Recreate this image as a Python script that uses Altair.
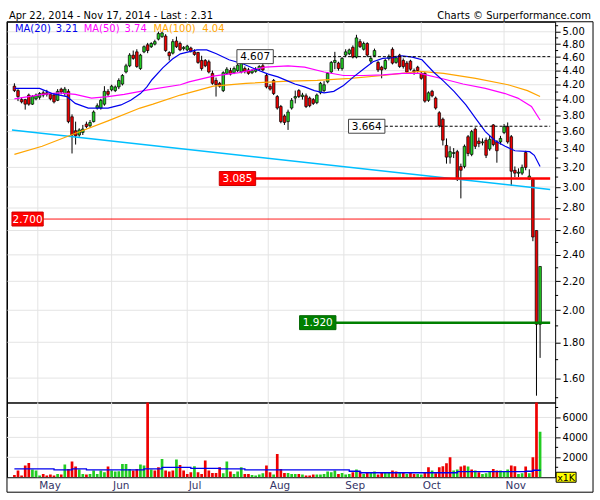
import math
import altair as alt
import numpy as np
import pandas as pd

FONT = "DejaVu Sans"

# ---------------- data ----------------
opens = [4.18,4.12,4.00,4.00,4.06,3.94,4.01,4.03,4.09,4.09,
 4.07,4.06,3.99,4.14,4.08,4.11,3.78,3.61,3.56,3.59,
 3.69,3.67,3.72,3.89,3.89,3.94,4.11,4.13,4.12,4.17,
 4.21,4.38,4.47,4.63,4.68,4.43,4.68,4.79,4.76,4.80,
 4.88,4.92,4.93,4.67,4.66,4.85,4.81,4.73,4.71,4.74,
 4.68,4.67,4.55,4.55,4.53,4.36,4.26,4.22,4.12,4.36,
 4.40,4.37,4.40,4.38,4.43,4.41,4.37,4.39,4.42,4.47,
 4.33,4.18,4.26,4.04,3.91,3.79,3.72,3.89,4.02,4.12,
 4.04,4.05,4.02,4.00,3.96,4.09,4.12,4.24,4.38,4.52,
 4.51,4.43,4.63,4.65,4.75,4.60,4.84,4.72,4.81,4.54,
 4.62,4.52,4.45,4.43,4.58,4.72,4.52,4.63,4.55,4.51,
 4.54,4.40,4.45,4.36,4.36,3.99,4.11,4.02,3.83,3.75,
 3.44,3.31,3.35,3.37,3.21,3.21,3.54,3.34,3.63,3.49,
 3.47,3.50,3.40,3.68,3.48,3.48,3.59,3.66,3.54,3.17,
 3.14,3.14,3.36,3.08,3.075,2.60,1.91]
highs = [4.22,4.14,4.03,4.01,4.08,4.06,4.08,4.10,4.12,4.13,
 4.09,4.08,4.14,4.16,4.17,4.14,3.81,3.72,3.64,3.68,
 3.72,3.74,3.86,3.95,4.01,4.18,4.14,4.20,4.19,4.29,
 4.35,4.50,4.66,4.70,4.72,4.65,4.78,4.82,4.83,4.87,
 5.00,5.00,4.96,4.69,4.88,4.92,4.84,4.77,4.79,4.76,
 4.72,4.68,4.62,4.57,4.56,4.40,4.30,4.24,4.39,4.45,
 4.44,4.46,4.50,4.60,4.46,4.44,4.42,4.45,4.48,4.52,
 4.36,4.21,4.28,4.06,3.93,3.81,3.87,4.02,4.12,4.14,
 4.09,4.08,4.04,4.02,4.08,4.24,4.25,4.38,4.54,4.68,
 4.53,4.60,4.72,4.73,4.78,4.95,4.88,4.84,4.83,4.62,
 4.73,4.54,4.47,4.57,4.64,4.75,4.62,4.65,4.58,4.54,
 4.56,4.43,4.47,4.38,4.38,4.11,4.13,4.04,3.85,3.77,
 3.52,3.43,3.41,3.39,3.24,3.45,3.56,3.62,3.65,3.53,
 3.52,3.53,3.55,3.69,3.50,3.55,3.69,3.71,3.56,3.21,
 3.19,3.23,3.38,3.18,3.085,2.60,2.31]
lows = [4.10,3.98,3.95,3.87,3.92,3.93,3.99,4.00,4.03,4.04,
 3.99,3.95,3.98,4.07,4.05,3.70,3.35,3.45,3.54,3.56,
 3.64,3.65,3.71,3.87,3.87,3.92,4.04,4.11,4.10,4.14,
 4.19,4.36,4.45,4.56,4.44,4.41,4.66,4.66,4.74,4.78,
 4.86,4.90,4.68,4.55,4.64,4.74,4.69,4.70,4.69,4.67,
 4.62,4.50,4.40,4.45,4.36,4.20,4.04,4.16,4.10,4.34,
 4.33,4.35,4.38,4.36,4.36,4.34,4.35,4.37,4.40,4.39,
 4.15,4.12,4.06,3.87,3.70,3.68,3.62,3.87,3.95,4.02,
 4.00,3.89,3.90,3.93,3.94,4.07,4.10,4.22,4.36,4.42,
 4.40,4.40,4.60,4.63,4.58,4.58,4.74,4.70,4.60,4.50,
 4.60,4.38,4.29,4.41,4.55,4.49,4.50,4.44,4.43,4.36,
 4.40,4.34,4.37,4.27,3.96,3.97,4.03,3.87,3.65,3.44,
 3.24,3.24,3.30,3.06,2.89,3.19,3.32,3.32,3.40,3.42,
 3.44,3.30,3.38,3.43,3.25,3.45,3.57,3.46,3.01,3.10,
 3.10,3.12,3.17,3.07,2.51,1.51,1.71]
closes = [4.12,4.04,3.97,3.94,3.94,4.04,4.06,4.08,4.06,4.07,
 4.01,3.97,4.11,4.10,4.14,3.72,3.56,3.55,3.62,3.63,
 3.66,3.71,3.84,3.92,3.99,4.11,4.07,4.18,4.17,4.26,
 4.33,4.47,4.63,4.58,4.46,4.63,4.76,4.70,4.81,4.84,
 4.97,4.98,4.70,4.62,4.84,4.76,4.71,4.75,4.77,4.69,
 4.64,4.52,4.43,4.47,4.38,4.22,4.20,4.18,4.37,4.42,
 4.35,4.43,4.48,4.53,4.39,4.36,4.40,4.42,4.46,4.41,
 4.17,4.14,4.08,3.89,3.72,3.71,3.84,3.99,4.04,4.04,
 4.06,3.91,3.92,3.95,4.06,4.22,4.20,4.36,4.52,4.55,
 4.43,4.58,4.68,4.71,4.60,4.90,4.76,4.81,4.63,4.58,
 4.70,4.41,4.41,4.55,4.61,4.51,4.59,4.46,4.46,4.38,
 4.42,4.38,4.40,4.29,3.98,4.09,4.05,3.89,3.67,3.50,
 3.31,3.37,3.36,3.08,3.17,3.43,3.35,3.60,3.43,3.46,
 3.48,3.33,3.51,3.45,3.38,3.52,3.66,3.48,3.16,3.14,
 3.15,3.20,3.20,3.11,2.545,1.91,2.31]

# volume in thousands of shares
volumes = [230,670,170,1170,1430,770,670,170,330,170,
 270,170,330,270,1270,830,1570,1070,770,330,
 270,330,670,330,670,500,1070,670,570,600,
 1330,1330,830,670,830,1270,1170,9000,770,670,
 1000,1830,670,570,670,1770,1230,670,330,500,
 1100,500,330,1670,670,430,430,1000,400,1570,
 570,330,570,1000,330,330,230,170,270,400,
 1170,500,270,2330,830,430,430,330,330,330,
 270,170,170,270,270,270,330,570,500,670,
 330,430,270,330,500,770,570,330,500,430,
 570,270,500,500,500,670,570,430,500,330,
 430,330,330,270,500,1000,670,400,1000,1100,
 1400,2000,670,770,1070,1170,1070,770,670,500,
 330,400,570,830,670,670,570,770,1170,1100,
 330,400,1070,400,2000,9000,4570]
vol_dirs = list("".join([
 "rrrrrgggrr", "rrgrgrrrgg", "rgggggrggg", "gggrrggrgr",
 "rgrrrgrrrr", "grrrrrrrgg", "rgggrrgggg", "rrgrrrgggr",
 "grrrgggggg", "rgggrgrgrg", "grrggrrgrg", "rrggrrgrrr",
 "rrggrrgrgr", "gggrrgggrr", "ggrgrrg"]))

ma20 = [(0,4.15),(7,4.15),(10.5,4.08),(14.6,4.04),(16.9,3.95),(20.5,3.89),(26,3.89),
 (29.6,3.93),(32.3,3.99),(35,4.08),(36.8,4.17),(38.2,4.27),(41.2,4.44),(43.9,4.57),
 (46.1,4.65),(50.7,4.71),(53.4,4.71),(56.1,4.65),(59.6,4.56),(63.4,4.50),(67,4.42),
 (70.5,4.35),(73.2,4.31),(76,4.25),(77.9,4.21),(80.6,4.17),(83.3,4.12),(86,4.09),
 (88.7,4.11),(91.4,4.19),(94.2,4.31),(96.9,4.42),(99.6,4.53),(102.3,4.58),(105,4.59),
 (107.7,4.62),(110.5,4.60),(113.2,4.56),(116.4,4.38),(119.2,4.25),(122.1,4.11),
 (125.4,3.93),(128.1,3.76),(130.8,3.60),(133.6,3.49),(136.3,3.43),(139,3.38),
 (143.1,3.37),(144.4,3.33),(146,3.21)]
ma50 = [(0,4.01),(7.8,4.07),(12.4,4.09),(16.9,4.07),(21.4,4.02),(26,4.04),(30.5,4.07),
 (35,4.11),(37.1,4.13),(46.1,4.20),(48.5,4.24),(55.2,4.32),(62.4,4.37),(69.7,4.45),
 (76,4.47),(80.6,4.45),(86,4.38),(91.4,4.33),(96.9,4.33),(102.3,4.34),(107.7,4.36),
 (112.6,4.36),(119.2,4.28),(124.6,4.21),(130.8,4.15),(136.3,4.08),(139.8,4.02),
 (143.6,3.91),(146,3.74)]
ma100 = [(0,3.34),(7.7,3.43),(17,3.58),(26,3.73),(34.9,3.89),(38.5,3.94),(46.1,4.06),
 (50.7,4.12),(55.3,4.18),(64.3,4.22),(76,4.25),(84.1,4.26),(93.3,4.29),(102.3,4.33),
 (112.6,4.39),(119.2,4.36),(128.1,4.29),(137.1,4.20),(142.5,4.12),(146,4.04)]
vol_ma = [(0,830),(11,730),(16,830),(20,740),(36,830),(41,1000),(49,900),(57,830),
 (64,740),(93,600),(96,450),(123,570),(142,600),(144,700),(146,780)]
trend = [(-0.68,3.62),(148.8,2.976)]

month_names = ["May", "Jun", "Jul", "Aug", "Sep", "Oct", "Nov"]
month_pos = [6.5, 27, 48, 70.5, 91.5, 113, 136]

price_ticks = [1.6,1.8,2.0,2.2,2.4,2.6,2.8,3.0,3.2,3.4,3.6,3.8,4.0,4.2,4.4,4.6,4.8,5.0]
price_minor = [1.5,1.7,1.9,2.1,2.3,2.5,2.7,2.9,3.1,3.3,3.5,3.7,3.9,4.1,4.3,4.5,4.7,4.9,5.1]
vol_ticks = [2000, 4000, 6000]
vol_minor = [1000, 3000, 5000, 7000]

levels = [
    dict(price=4.607, label="4.607", left=61.8, right=71.9, kind="dash"),
    dict(price=3.664, label="3.664", left=92.8, right=102.9, kind="dash"),
    dict(price=3.085, label="3.085", left=56.9, right=67.0, kind="red_thick"),
    dict(price=2.700, label="2.700", left=-0.68, right=8.0, kind="red_thin"),
    dict(price=1.920, label="1.920", left=79.2, right=89.3, kind="green_thick"),
]

# ---------------- layout / style ----------------
W, HP, HV = 550, 382, 75
X_DOMAIN = [-0.68, 148.8]
P_DOMAIN = [1.4766, 5.167]
V_DOMAIN = [0, 7500]
GRID = "#e4e4e4"
UP, DOWN = "#22cc22", "#ee0000"
VUP, VDOWN = "#22ee22", "#ff0000"

styles = {
    "dash": dict(line="black", width=1, dash=[3, 2], fill="white", stroke="#444444", text="black"),
    "red_thick": dict(line="#ff0000", width=2.5, dash=[1, 0], fill="#ff0000", stroke="#cc0000", text="white"),
    "red_thin": dict(line="#ff0000", width=1, dash=[1, 0], fill="#ff0000", stroke="#cc0000", text="white"),
    "green_thick": dict(line="#008000", width=2.5, dash=[1, 0], fill="#008000", stroke="#006600", text="white"),
}

xs = alt.Scale(domain=X_DOMAIN, nice=False, zero=False)
ys = alt.Scale(type="log", domain=P_DOMAIN, nice=False)
vs = alt.Scale(domain=V_DOMAIN, nice=False, zero=True)

yaxis = alt.Axis(orient="right", values=price_ticks, format=".2f", grid=False, domain=False,
                 ticks=True, tickSize=5, tickColor="black", labelColor="black",
                 labelFontSize=10, labelPadding=2, title=None, labelFont=FONT)
vaxis = alt.Axis(orient="right", values=vol_ticks, format="d", grid=False, domain=False,
                 ticks=True, tickSize=5, tickColor="black", labelColor="black",
                 labelFontSize=10, labelPadding=2, title=None, labelFont=FONT)
names_js = "[" + ",".join("'%s'" % m for m in month_names) + "]"
pos_js = "[" + ",".join(str(p) for p in month_pos) + "]"
xaxis = alt.Axis(orient="bottom", values=month_pos, labelExpr=f"{names_js}[indexof({pos_js}, datum.value)]",
                 ticks=False, domain=False, grid=False, labelAlign="left", labelBaseline="top",
                 labelPadding=3, labelOffset=1, labelFontSize=10.5, labelColor="#333366",
                 labelFlush=False, labelOverlap=False, title=None, labelFont=FONT)


# identical axis objects in every layer of a panel so they merge into one axis
def XP(f):
    return alt.X(f, type="quantitative", scale=xs, axis=None)


def XV(f):
    return alt.X(f, type="quantitative", scale=xs, axis=xaxis)


def YP(f):
    return alt.Y(f, type="quantitative", scale=ys, axis=yaxis)


def YV(f):
    return alt.Y(f, type="quantitative", scale=vs, axis=vaxis)


one = pd.DataFrame({"k": [0]})
n = len(closes)
cd = pd.DataFrame({"i": list(range(n)), "o": opens, "h": highs, "l": lows, "c": closes})
cd["top"] = cd[["o", "c"]].max(axis=1)
cd["bot"] = cd[["o", "c"]].min(axis=1)
cd["dir"] = np.where(cd["c"] >= cd["o"], "up", "down")

vd = pd.DataFrame({"i": list(range(n)), "v": volumes, "dir": vol_dirs})
months_df = pd.DataFrame({"pos": month_pos, "name": month_names})

# ---------------- price panel ----------------
pl = []
# invisible page-size rect pins the layout to the 600x500 window
pl.append(alt.Chart(one).mark_rect(opacity=0).encode(
    x=alt.value(-6), x2=alt.value(594), y=alt.value(-20), y2=alt.value(480)))
pl.append(alt.Chart(months_df).mark_rule(color=GRID, strokeWidth=1).encode(x=XP("pos")))
pl.append(alt.Chart(pd.DataFrame({"v": price_ticks})).mark_rule(color=GRID, strokeWidth=1).encode(
    y=YP("v")))
# candles
pl.append(alt.Chart(cd).mark_rule(color="black", strokeWidth=1).encode(
    x=XP("i"), y=YP("l"), y2="h"))
pl.append(alt.Chart(cd).mark_bar(size=2.6, stroke="black", strokeWidth=0.7).encode(
    x=XP("i"), y=YP("top"), y2="bot",
    fill=alt.Fill("dir:N", scale=alt.Scale(domain=["up", "down"], range=[UP, DOWN]), legend=None)))
# trend line and moving averages
pl.append(alt.Chart(pd.DataFrame(trend, columns=["i", "p"])).mark_line(
    color="#00bfff", strokeWidth=1.5).encode(x=XP("i"), y=YP("p")))
for series, col in [(ma100, "#ffa500"), (ma50, "#ff00ff"), (ma20, "#0000ee")]:
    pl.append(alt.Chart(pd.DataFrame(series, columns=["i", "p"])).mark_line(
        color=col, strokeWidth=1.2).encode(x=XP("i"), y=YP("p")))
# level lines with labels
fac = math.exp(7 * (math.log(P_DOMAIN[1]) - math.log(P_DOMAIN[0])) / HP)
for lv in levels:
    st = styles[lv["kind"]]
    d = pd.DataFrame([dict(price=lv["price"], left=lv["left"], right=lv["right"],
                           end=X_DOMAIN[1], mid=(lv["left"] + lv["right"]) / 2,
                           btop=lv["price"] * fac, bbot=lv["price"] / fac, label=lv["label"])])
    pl.append(alt.Chart(d).mark_rule(color=st["line"], strokeWidth=st["width"],
                                     strokeDash=st["dash"]).encode(
        x=XP("right"), x2="end", y=YP("price")))
    pl.append(alt.Chart(d).mark_rect(fill=st["fill"], stroke=st["stroke"], strokeWidth=1).encode(
        x=XP("left"), x2="right", y=YP("btop"), y2="bbot"))
    pl.append(alt.Chart(d).mark_text(color=st["text"], fontSize=10.5, font=FONT,
                                     align="center", baseline="middle", dy=0.5).encode(
        x=XP("mid"), y=YP("price"), text="label:N"))
# minor ticks on the price axis
pl.append(alt.Chart(pd.DataFrame({"v": price_minor})).mark_rule(color="black").encode(
    y=YP("v"), x=alt.value(W), x2=alt.value(W + 3)))
# header texts and MA legend
texts = [
    ("Apr 22, 2014 - Nov 17, 2014 - Last : 2.31", 2, -2.7, "left", "black"),
    ("Charts \u00a9 Surperformance.com", 586, -2.7, "right", "black"),
    ("MA(20)", 8, 10.7, "left", "#0000ee"),
    ("3.21", 49, 10.7, "left", "#0000ee"),
    ("MA(50)", 77, 10.7, "left", "#ff00ff"),
    ("3.74", 118, 10.7, "left", "#ff00ff"),
    ("MA(100)", 147, 10.7, "left", "#ffa500"),
    ("4.04", 196, 10.7, "left", "#ffa500"),
]
for s, px, py, al, col in texts:
    pl.append(alt.Chart(one).mark_text(align=al, baseline="alphabetic", fontSize=10,
                                       font=FONT, color=col).encode(
        x=alt.value(px), y=alt.value(py), text=alt.value(s)))
# outer frame of the whole chart
pl.append(alt.Chart(one).mark_rect(fillOpacity=0, stroke="black", strokeWidth=1).encode(
    x=alt.value(0), x2=alt.value(588), y=alt.value(0), y2=alt.value(472)))

price = alt.layer(*pl).properties(width=W, height=HP)

# ---------------- volume panel ----------------
vl = []
vl.append(alt.Chart(months_df).mark_rule(color=GRID, strokeWidth=1).encode(x=XV("pos")))
vl.append(alt.Chart(pd.DataFrame({"v": vol_ticks})).mark_rule(color=GRID, strokeWidth=1).encode(
    y=YV("v")))
vl.append(alt.Chart(vd).mark_bar(size=2.7, clip=True).encode(
    x=XV("i"), y=YV("v"), y2=alt.datum(0),
    fill=alt.Fill("dir:N", scale=alt.Scale(domain=["g", "r"], range=[VUP, VDOWN]), legend=None)))
vl.append(alt.Chart(pd.DataFrame(vol_ma, columns=["i", "v"])).mark_line(
    color="#0000ee", strokeWidth=1.3, interpolate="step-after").encode(x=XV("i"), y=YV("v")))
vl.append(alt.Chart(pd.DataFrame({"v": vol_minor})).mark_rule(color="black").encode(
    y=YV("v"), x=alt.value(W), x2=alt.value(W + 3)))
vl.append(alt.Chart(one).mark_rect(fill="#ffff00", stroke="black", strokeWidth=1).encode(
    x=alt.value(W + 1), x2=alt.value(W + 21), y=alt.value(HV - 5), y2=alt.value(HV + 5)))
vl.append(alt.Chart(one).mark_text(align="center", baseline="middle", fontSize=9.5,
                                   font=FONT, color="black").encode(
    x=alt.value(W + 11), y=alt.value(HV + 0.5), text=alt.value("x1K")))

vol = alt.layer(*vl).properties(width=W, height=HV)

chart = (alt.vconcat(price, vol, spacing=0, bounds="flush")
         .properties(padding=0)
         .configure(font=FONT)
         .configure_view(stroke="black", strokeWidth=1))

chart.save("out.html", embed_options={"renderer": "svg", "actions": False})
